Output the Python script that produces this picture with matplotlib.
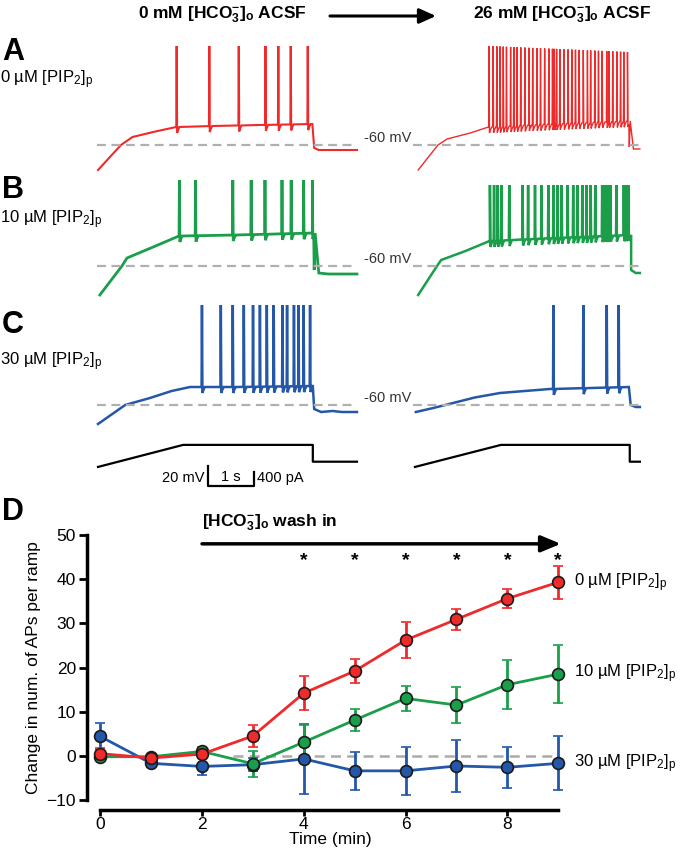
import numpy as np
import matplotlib
matplotlib.use("Agg")
import matplotlib.pyplot as plt

plt.rcParams['font.family'] = ['Liberation Sans', 'DejaVu Sans']
plt.rcParams['mathtext.fontset'] = 'custom'
plt.rcParams['mathtext.rm'] = 'Liberation Sans'
plt.rcParams['mathtext.it'] = 'Liberation Sans:italic'
plt.rcParams['mathtext.bf'] = 'Liberation Sans:bold'

RED = '#ee2a2a'
GREEN = '#1a9e4a'
BLUE = '#2457a8'

# ---- panel D data: change in number of APs per ramp ----
time_min = [0, 1, 2, 3, 4, 5, 6, 7, 8, 9]
pip0 = [0.5, -0.5, 0.4, 4.5, 14.2, 19.2, 26.2, 30.9, 35.6, 39.3]
pip0_err = [1.3, 0.6, 0.8, 2.4, 3.9, 2.8, 4.1, 2.4, 2.1, 3.7]
pip10 = [-0.2, -0.2, 1.0, -1.8, 3.1, 8.1, 13.0, 11.5, 16.1, 18.5]
pip10_err = [0.8, 0.5, 1.0, 3.0, 3.8, 2.5, 2.8, 4.1, 5.5, 6.5]
pip30 = [4.4, -1.7, -2.4, -2.0, -0.7, -3.4, -3.4, -2.3, -2.6, -1.7]
pip30_err = [3.0, 0.8, 1.9, 1.5, 8.0, 4.3, 5.5, 5.8, 4.7, 6.1]
star_times = [4, 5, 6, 7, 8, 9]
series_labels = [r'0 µM [PIP$_2$]$_\mathrm{p}$', r'10 µM [PIP$_2$]$_\mathrm{p}$',
                 r'30 µM [PIP$_2$]$_\mathrm{p}$']

# ---- panels A-C: voltage traces (time s, membrane potential mV) ----
# subthreshold envelopes
redL_t = [0, 0.5, 0.75, 1.2, 1.7, 2.5, 3.5, 4.66, 4.70, 4.8, 5.63]
redL_v = [-85, -60, -52, -47, -42, -41, -40, -39, -63, -65, -65]
redL_spikes = [1.71, 2.42, 3.06, 3.64, 3.92, 4.19, 4.56]
redL_peak = 39

redR_t = [0.07, 0.5, 0.7, 1.2, 1.6, 2.5, 3.5, 4.62, 4.66, 4.75, 4.89]
redR_v = [-85, -60, -54, -48, -42, -40, -38, -36, -62, -64, -64]
redR_spikes = [1.61, 1.70, 1.78, 1.85, 1.92, 1.99, 2.08, 2.15, 2.22, 2.30,
               2.39, 2.48, 2.56, 2.65, 2.73, 2.82, 2.91, 2.99, 3.03, 3.08,
               3.15, 3.24, 3.33, 3.41, 3.49, 3.57, 3.66, 3.75, 3.82, 3.91,
               3.99, 4.07, 4.17, 4.22, 4.30, 4.39, 4.47, 4.54, 4.62]
redR_peak_t = [1.6, 4.62]
redR_peak_v = [39, 33]

greenL_t = [0.04, 0.52, 0.63, 1.2, 1.76, 3.0, 4.66, 4.70, 4.8, 5.0, 5.63]
greenL_v = [-89, -60, -52, -41, -30, -29, -27, -64, -67, -68, -68]
greenL_spikes = [1.77, 2.12, 2.93, 3.33, 3.63, 4.00, 4.20, 4.47, 4.66]
greenL_peak = 26

greenR_t = [0.07, 0.48, 0.57, 1.1, 1.63, 3.0, 4.66, 4.70, 4.8, 4.89]
greenR_v = [-89, -60, -54, -45, -35, -32, -29, -64, -67, -67]
greenR_spikes = [1.63, 1.72, 1.80, 1.88, 2.05, 2.34, 2.46, 2.61, 2.75, 2.90,
                 3.01, 3.10, 3.19, 3.32, 3.44, 3.53, 3.64, 3.73, 3.82, 3.92,
                 4.07, 4.11, 4.15, 4.18, 4.22, 4.25, 4.38, 4.54, 4.59, 4.64]
greenR_peak = 21

blueL_t = [0, 0.59, 1.13, 1.6, 2.0, 3.0, 4.66, 4.70, 4.85, 5.1, 5.3, 5.63]
blueL_v = [-79, -60, -53, -46, -42, -42, -41, -64, -67, -66, -67, -67]
blueL_spikes = [2.26, 2.67, 2.93, 3.17, 3.37, 3.52, 3.67, 3.82, 4.01, 4.11,
                4.26, 4.36, 4.47, 4.61]
blueL_peak = 40

blueR_t = [0.02, 0.4, 0.83, 1.3, 1.85, 2.93, 4.65, 4.69, 4.8, 4.89]
blueR_v = [-67, -63, -58, -52.5, -48, -44, -42, -60, -62, -62]
blueR_spikes = [3.01, 3.66, 4.17, 4.43]
blueR_peak = 40

# ramp current command (s, pA)
stimL_t = [0, 1.85, 4.67, 4.67, 5.63]
stimR_t = [0, 1.87, 4.67, 4.67, 4.89]
stim_i = [-150, 480, 480, 0, 0]

# layout of the trace panel (positions only)
PX_PER_S = 46.0
COL_SHIFT = 6.89          # right column offset in s
ROW_RED, ROW_GREEN, ROW_BLUE = -85, -206, -345   # mV offsets
STIM_ROW = -461.7
PA_SCALE = 0.035


def build_trace(env_t, env_v, spikes, peak_t, peak_v):
    pts = list(zip(env_t, env_v))
    for s in spikes:
        base = np.interp(s, env_t, env_v)
        pk = np.interp(s, peak_t, peak_v)
        pts += [(s - 0.008, base), (s, pk), (s + 0.01, base - 6),
                (s + 0.03, base - 3), (s + 0.06, base)]
    pts.sort(key=lambda p: p[0])
    t, v = zip(*pts)
    return np.array(t), np.array(v)


fig = plt.figure(figsize=(6.8, 8.52), dpi=100)


def fx(px):
    return px / 680.0


def fy(py):
    return 1 - py / 852.0


ax = fig.add_axes([0, 0, 1, 1])
ax.set_xlim(-98 / PX_PER_S, (680 - 98) / PX_PER_S)
ax.set_ylim(-852, 0)
ax.axis('off')

traces = [
    (redL_t, redL_v, redL_spikes, [0, 9], [redL_peak] * 2, RED, ROW_RED, 0, 1.5),
    (redR_t, redR_v, redR_spikes, redR_peak_t, redR_peak_v, RED, ROW_RED, COL_SHIFT, 1.0),
    (greenL_t, greenL_v, greenL_spikes, [0, 9], [greenL_peak] * 2, GREEN, ROW_GREEN, 0, 2.0),
    (greenR_t, greenR_v, greenR_spikes, [0, 9], [greenR_peak] * 2, GREEN, ROW_GREEN, COL_SHIFT, 1.8),
    (blueL_t, blueL_v, blueL_spikes, [0, 9], [blueL_peak] * 2, BLUE, ROW_BLUE, 0, 1.8),
    (blueR_t, blueR_v, blueR_spikes, [0, 9], [blueR_peak] * 2, BLUE, ROW_BLUE, COL_SHIFT, 1.8),
]
for et, ev, sp, pt, pv, col, row, shift, lw in traces:
    t, v = build_trace(et, ev, sp, pt, pv)
    ax.plot(t + shift, v + row, color=col, lw=lw, solid_joinstyle='miter')

# -60 mV reference lines
for row in [ROW_RED, ROW_GREEN, ROW_BLUE]:
    ax.plot([-0.02, 5.63], [-60 + row] * 2, color='#b0b0b0', lw=1.6, ls=(0, (4, 2.5)))
    ax.plot([COL_SHIFT - 0.04, COL_SHIFT + 4.89], [-60 + row] * 2, color='#b0b0b0',
            lw=1.6, ls=(0, (4, 2.5)))
    ax.text(COL_SHIFT - 0.08, -60 + row + 7, '-60 mV', ha='right', va='center',
            fontsize=10.5, color='#333333')

# current command
ax.plot(np.array(stimL_t), np.array(stim_i) * PA_SCALE + STIM_ROW, color='k', lw=1.6)
ax.plot(np.array(stimR_t) + COL_SHIFT, np.array(stim_i) * PA_SCALE + STIM_ROW, color='k', lw=1.6)

# scale bars: 20 mV, 1 s, 400 pA
sb_t, sb_y = (208 - 98) / PX_PER_S, -486
ax.plot([sb_t, sb_t, sb_t + 1, sb_t + 1], [sb_y + 20, sb_y, sb_y, sb_y + 400 * PA_SCALE],
        color='k', lw=1.6)
ax.text(sb_t - 0.07, sb_y + 8, '20 mV', ha='right', va='center', fontsize=10.5)
ax.text(sb_t + 0.5, sb_y + 9, '1 s', ha='center', va='center', fontsize=10.5)
ax.text(sb_t + 1.07, sb_y + 8, '400 pA', ha='left', va='center', fontsize=10.5)

# headers
fig.text(fx(222), fy(15), r'0 mM [HCO$_\mathbf{3}^\mathbf{-}$]$_\mathbf{o}$ ACSF',
         ha='center', va='center', fontsize=12.5, fontweight='bold')
fig.text(fx(562), fy(15), r'26 mM [HCO$_\mathbf{3}^\mathbf{-}$]$_\mathbf{o}$ ACSF',
         ha='center', va='center', fontsize=12.5, fontweight='bold')
ax.annotate('', xy=(fx(436), fy(16)), xytext=(fx(330), fy(16)),
            xycoords='figure fraction', textcoords='figure fraction',
            arrowprops=dict(arrowstyle='-|>,head_length=1.0,head_width=0.45',
                            color='k', lw=2.2, shrinkA=0, shrinkB=0))

for letter, ly, lab, lby in [('A', 52, series_labels[0], 80),
                             ('B', 190, series_labels[1], 220),
                             ('C', 325, series_labels[2], 362),
                             ('D', 512, None, None)]:
    fig.text(fx(2), fy(ly), letter, ha='left', va='center', fontsize=22, fontweight='bold')
    if lab:
        fig.text(fx(0), fy(lby), lab, ha='left', va='center', fontsize=12)

# ---- panel D ----
axd = fig.add_axes([fx(87), fy(800), (573 - 87) / 680, 265 / 852])
axd.set_xlim(-0.26, 9.29)
axd.set_ylim(-10, 50)
axd.patch.set_alpha(0)

axd.plot([2.6, 9], [0, 0], color='#aaaaaa', lw=1.8, ls=(0, (4, 2.5)), zorder=1)
for y, e, col in [(pip30, pip30_err, BLUE), (pip10, pip10_err, GREEN), (pip0, pip0_err, RED)]:
    axd.errorbar(time_min, y, yerr=e, color=col, lw=2, elinewidth=2, capsize=3.5,
                 capthick=2, marker='o', ms=8.5, mfc=col, mec='#1a1a1a', mew=1.2,
                 zorder=3, clip_on=False)

for lab, y, in zip(series_labels, [pip0[-1], pip10[-1], pip30[-1]]):
    axd.text(9.3, y, lab, ha='left', va='center', fontsize=12, clip_on=False)

for t in star_times:
    axd.text(t, 44.2, '*', ha='center', va='center', fontsize=14, fontweight='bold')

axd.annotate('', xy=(9.05, 48), xytext=(2, 48),
             arrowprops=dict(arrowstyle='-|>,head_length=1.2,head_width=0.5',
                             color='k', lw=2.5, shrinkA=0, shrinkB=0), annotation_clip=False)
axd.text(2, 50.5, r'[HCO$_\mathbf{3}^\mathbf{-}$]$_\mathbf{o}$ wash in', ha='left',
         va='bottom', fontsize=12.5, fontweight='bold')

axd.spines['top'].set_visible(False)
axd.spines['right'].set_visible(False)
axd.spines['left'].set_linewidth(2.5)
axd.spines['bottom'].set_linewidth(2.5)
axd.spines['bottom'].set_position(('outward', 7))
axd.spines['bottom'].set_bounds(0, 9)
axd.spines['left'].set_bounds(-10, 50)
axd.set_yticks([-10, 0, 10, 20, 30, 40, 50])
axd.set_xticks([0, 2, 4, 6, 8])
axd.tick_params(axis='y', width=2, length=6, pad=2, labelsize=12.5, color='k')
axd.tick_params(axis='x', width=2, length=4, pad=1, labelsize=12.5, color='k')
axd.set_xlabel('Time (min)', fontsize=12.5, labelpad=0)
axd.set_ylabel('Change in num. of APs per ramp', fontsize=12.5, labelpad=4)

fig.savefig('out.png', dpi=100)
